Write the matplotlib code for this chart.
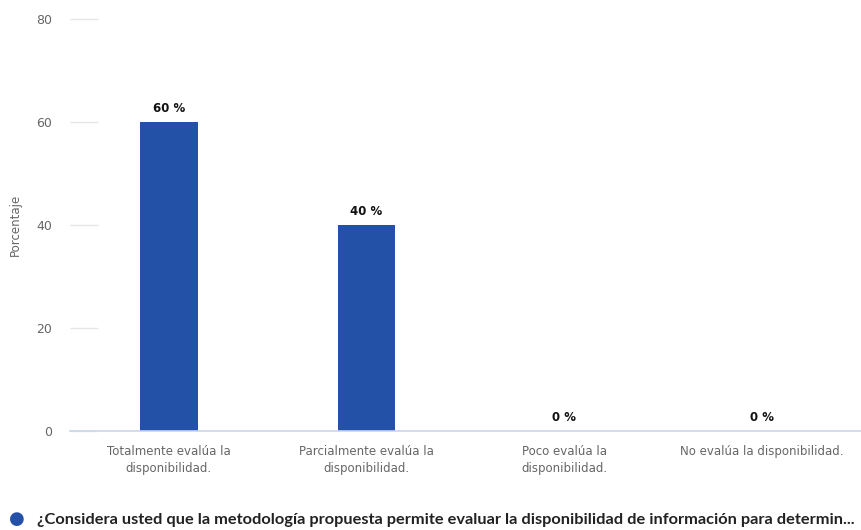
import matplotlib.pyplot as plt
import matplotlib.transforms as mtransforms

# Datos
categorias = ["Totalmente evalúa la\ndisponibilidad.",
              "Parcialmente evalúa la\ndisponibilidad.",
              "Poco evalúa la\ndisponibilidad.",
              "No evalúa la disponibilidad."]
porcentajes = [60, 40, 0, 0]
yticks = [0, 20, 40, 60, 80]
serie = "¿Considera usted que la metodología propuesta permite evaluar la disponibilidad de información para determin..."

azul = "#2451a8"
gris = "#666666"

fig = plt.figure(figsize=(8.61, 5.30), dpi=100)
ax = fig.add_axes([70 / 861, 99 / 530, 791 / 861, 412 / 530])

x = range(len(categorias))
ax.bar(x, porcentajes, width=0.29, color=azul, zorder=2)

# Etiquetas de datos
for xi, v in zip(x, porcentajes):
    ax.annotate(f"{v} %", (xi, v), xytext=(0, 5), textcoords="offset points",
                ha="center", va="bottom", fontsize=8.5, fontweight="bold",
                color="#111111")

ax.set_xlim(-0.5, len(categorias) - 0.5)
ax.set_ylim(0, 80)
ax.set_yticks(yticks)
ax.set_xticks(list(x))
ax.set_xticklabels(categorias, fontsize=8.5, color=gris, linespacing=1.4)

# Desplazar la última etiqueta como en el original
ultima = ax.get_xticklabels()[-1]
ultima.set_transform(ultima.get_transform() +
                     mtransforms.ScaledTranslation(15 / 100, 0, fig.dpi_scale_trans))

for s in ["top", "right", "left"]:
    ax.spines[s].set_visible(False)
ax.spines["bottom"].set_color("#ccd6eb")
ax.spines["bottom"].set_linewidth(1.2)

ax.tick_params(axis="y", direction="in", length=20, width=1, color="#e6e6e6",
               labelsize=9, labelcolor=gris, pad=13)
ax.tick_params(axis="x", length=0, pad=10)

ax.set_ylabel("Porcentaje", fontsize=8.5, color=gris, labelpad=10)

# Leyenda inferior
fig.text(17 / 861, 1 - 519 / 530, "●", color=azul, fontsize=13,
         ha="center", va="center")
fig.text(37 / 861, 1 - 520 / 530, serie, fontsize=11.8, fontweight="bold",
         family=["Lato", "DejaVu Sans"],
         color="#222222", ha="left", va="center")

fig.savefig("out.png", dpi=100)
